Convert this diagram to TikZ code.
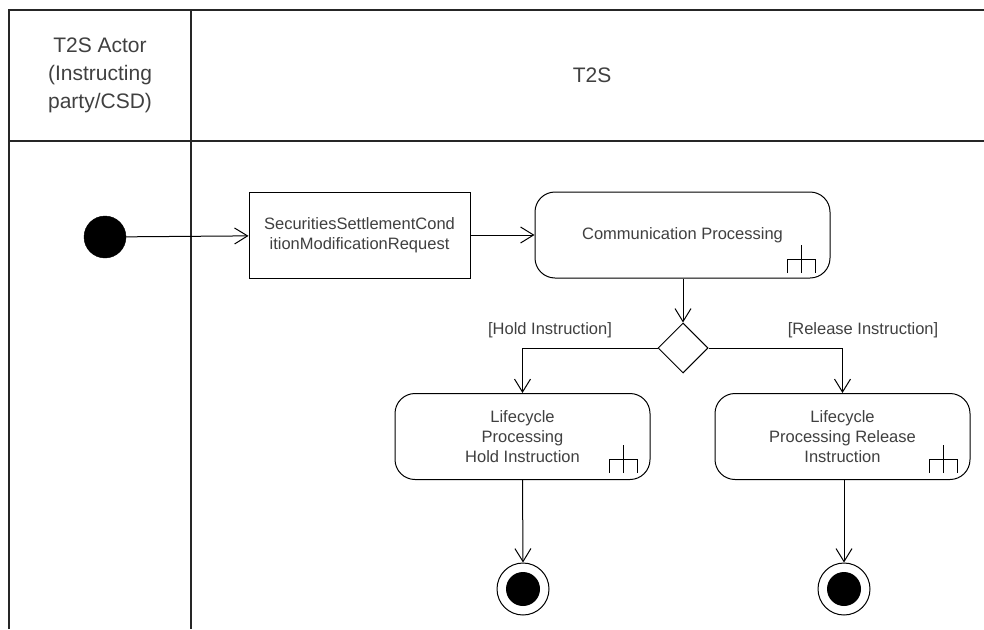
\documentclass[tikz,border=0pt]{standalone}
\usepackage{fontspec}
\setmainfont{Liberation Sans}
\usetikzlibrary{arrows.meta,shapes.geometric}
\definecolor{txtgray}{HTML}{404040}
\begin{document}
\begin{tikzpicture}[x=1pt,y=-1pt,
  lane/.style={line width=1.3pt,draw=black!85},
  hdr/.style={text=txtgray,font=\fontsize{21}{28}\selectfont,align=center},
  small/.style={text=txtgray,font=\fontsize{16.5}{20}\selectfont,align=center},
  rectbox/.style={draw,line width=1pt,fill=white,minimum width=221pt,minimum height=86pt,small,inner sep=0pt},
  actbox/.style={draw,line width=1pt,fill=white,rounded corners=20pt,minimum height=86pt,small,inner sep=0pt},
  flow/.style={line width=1pt,-{Straight Barb[length=13pt,width=16pt,line width=1pt]}},
  plain/.style={line width=1pt},
  forkicon/.pic={\draw[line width=1pt] (-14,0) -- (-14,-14) -- (14,-14) -- (14,0) (0,0) -- (0,-28);}
]
\useasboundingbox (0,0) rectangle (984,629);
% swimlane frame
\draw[lane] (9,629) -- (9,10) -- (984,10);
\draw[lane] (9,141) -- (984,141);
\draw[lane] (191,10) -- (191,629);
\node[hdr] (actor) at (100,75) {T2S Actor\\(Instructing\\party/CSD)};
\node[hdr] (t2s) at (592,75) {T2S};
% nodes
\node[circle,fill=black,draw=black,minimum size=42pt,inner sep=0pt] (start) at (105,237) {};
\node[rectbox] (req) at (359.5,235) {SecuritiesSettlementCond\\itionModificationRequest};
\node[actbox,minimum width=295pt] (comm) at (682.5,235) {Communication Processing};
\node[diamond,draw,line width=1pt,fill=white,minimum width=50pt,minimum height=50pt,inner sep=0pt] (dec) at (683,348) {};
\node[actbox,minimum width=255pt] (hold) at (522.5,436.5) {Lifecycle\\Processing\\Hold Instruction};
\node[actbox,minimum width=255pt] (rel) at (842.5,436.5) {Lifecycle\\Processing Release\\Instruction};
\node[circle,draw,line width=1pt,fill=white,minimum size=52pt,inner sep=0pt] (endh) at (523,589) {};
\node[circle,fill=black,minimum size=34pt,inner sep=0pt] at (endh) {};
\node[circle,draw,line width=1pt,fill=white,minimum size=52pt,inner sep=0pt] (endr) at (844,589) {};
\node[circle,fill=black,minimum size=34pt,inner sep=0pt] at (endr) {};
% fork icons
\pic at (801,273) {forkicon};
\pic at (623,473) {forkicon};
\pic at (943.5,473) {forkicon};
% connectors
\draw[flow] (start) -- (req);
\draw[flow] (req) -- (comm);
\draw[flow] (comm.south -| dec) -- (dec.north);
\draw[flow] (dec.west) -| (hold.north);
\draw[flow] (dec.east) -| (rel.north);
\draw[flow] (hold.south) -- (endh.north);
\draw[flow] (rel.south -| endr) -- (endr.north);
% guards
\node[small] (g1) at (550,330) {[Hold Instruction]};
\node[small] (g2) at (863,330) {[Release Instruction]};
\end{tikzpicture}
\end{document}
